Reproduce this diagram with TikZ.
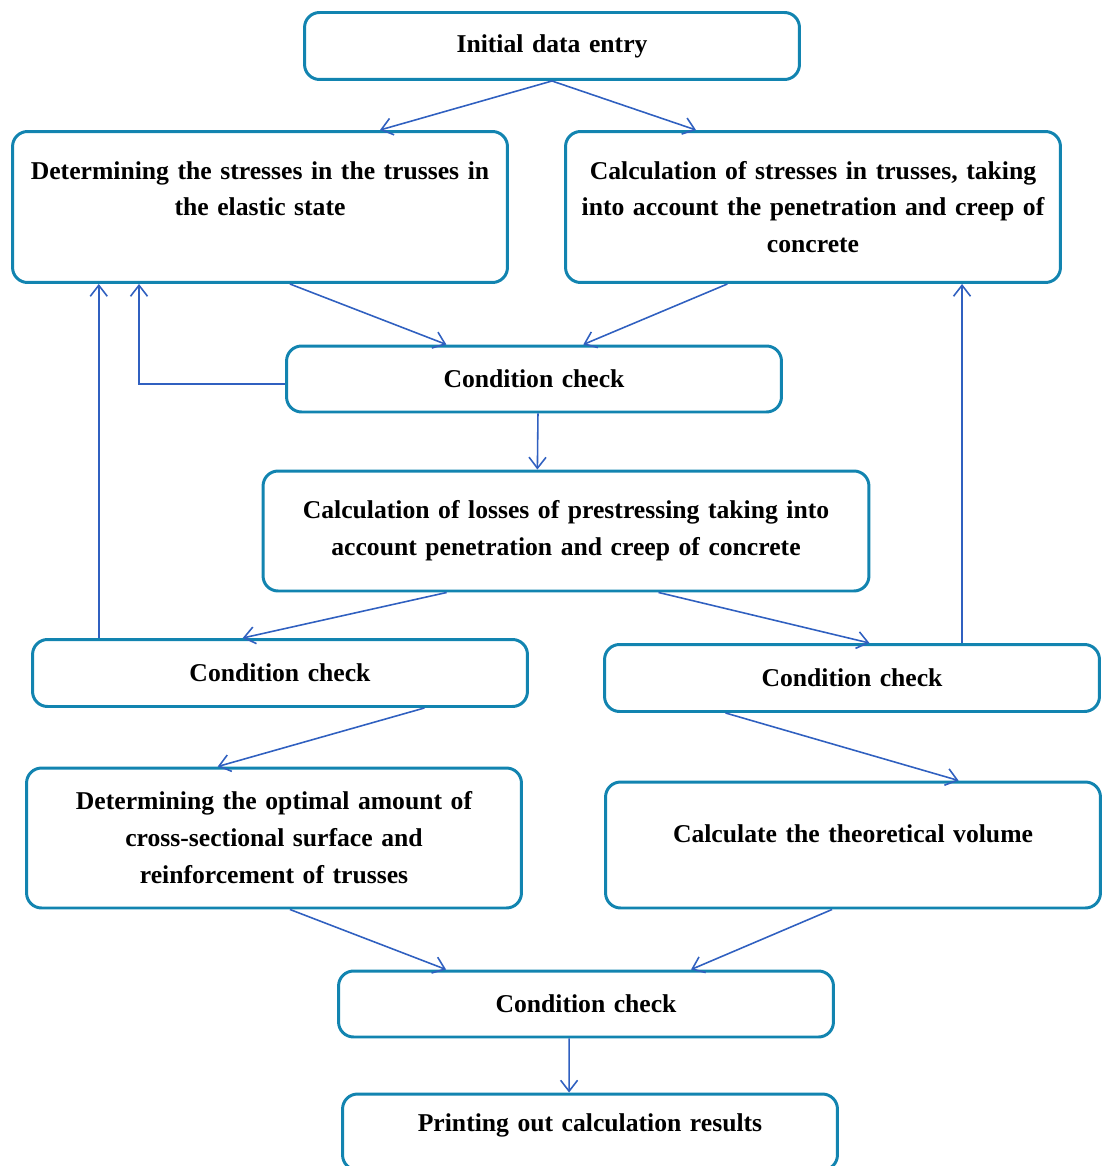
\documentclass[tikz,border=0pt]{standalone}
\usepackage{fontspec}
\setmainfont{Liberation Serif}[WordSpace=0.55]
\usetikzlibrary{arrows.meta,calc}
\definecolor{boxline}{RGB}{18,132,176}
\definecolor{arrowline}{RGB}{48,96,192}

\begin{document}
\begin{tikzpicture}[x=0.02cm,y=-0.02cm,
	block/.style={draw=boxline,line width=1.7pt,rounded corners=0.3cm,align=center,
		text width=9.5cm,minimum width=9.9cm,inner sep=2pt,
		font=\bfseries\fontsize{14.6}{21}\selectfont},
	flow/.style={draw=arrowline,line width=0.9pt,-{Straight Barb[length=0.22cm,width=0.34cm]}}]
	
	\useasboundingbox (0,0) rectangle (1102,1166);
	
	\node[block,minimum height=1.34cm] (a) at (552, 46)     {Initial data entry};
	\node[block,minimum height=3.02cm] (b) at (260, 207)     {Determining the stresses in the trusses in\\the elastic state\\\mbox{}};
	\node[block,minimum height=3.02cm] (c) at (813, 207)     {Calculation of stresses in trusses, taking\\into account the penetration and creep of\\concrete};
	
	\node[block,minimum height=1.32cm] (d) at (534, 379)     {Condition check};
	\node[block,minimum height=2.4cm,text width=11.6cm,minimum width=12.12cm] (e) at (566, 531)     {Calculation of losses of prestressing taking into\\account penetration and creep of concrete};
	
	\node[block,minimum height=1.34cm] (f) at (280, 673)     {Condition check};
	\node[block,minimum height=1.34cm] (g) at (852, 678)     {Condition check};
	\node[block,minimum height=2.8cm] (h) at (274, 838)     {Determining the optimal amount of\\cross-sectional surface and\\reinforcement of trusses};
	\node[block,minimum height=2.52cm] (i) at (853, 845)     {Calculate the theoretical volume\\[-8pt]\mbox{}};
	
	\node[block,minimum height=1.32cm] (j) at (586, 1004)     {Condition check};
	\node[block,minimum height=1.52cm] (k) at (590, 1132)     {Printing out calculation results\\[-10pt]\mbox{}};
	
	\coordinate (fup) at ($(f.north west)!0.136!(f.north east)$);
	\coordinate (gup) at ($(g.north west)!0.721!(g.north east)$);
	
	\draw[flow] (a.south) -- ($(b.north west)!0.741!(b.north east)$);
	\draw[flow] (a.south) -- ($(c.north west)!0.265!(c.north east)$);
	\draw[flow] ($(b.south west)!0.56!(b.south east)$) -- ($(d.north west)!0.324!(d.north east)$);
	\draw[flow] ($(c.south west)!0.328!(c.south east)$) -- ($(d.north west)!0.599!(d.north east)$);
	\draw[flow] ([yshift=-3pt]d.west) -| ($(b.south west)!0.257!(b.south east)$);
	\draw[flow] (fup) -- (fup |- b.south);
	\draw[flow] ($(d.south west)!0.508!(d.south east)$) -- ($(e.north west)!0.453!(e.north east)$);
	\draw[flow] ($(e.south west)!0.304!(e.south east)$) -- ($(f.north west)!0.425!(f.north east)$);
	\draw[flow] ($(e.south west)!0.652!(e.south east)$) -- ($(g.north west)!0.535!(g.north east)$);
	\draw[flow] (gup) -- (gup |- c.south);
	\draw[flow] ($(f.south west)!0.79!(f.south east)$) -- ($(h.north west)!0.387!(h.north east)$);
	\draw[flow] ($(g.south west)!0.246!(g.south east)$) -- ($(i.north west)!0.712!(i.north east)$);
	\draw[flow] ($(h.south west)!0.532!(h.south east)$) -- ($(j.north west)!0.219!(j.north east)$);
	\draw[flow] ($(i.south west)!0.458!(i.south east)$) -- ($(j.north west)!0.711!(j.north east)$);
	\draw[flow] ($(j.south west)!0.466!(j.south east)$) -- ($(k.north west)!0.458!(k.north east)$);
\end{tikzpicture}
\end{document}
